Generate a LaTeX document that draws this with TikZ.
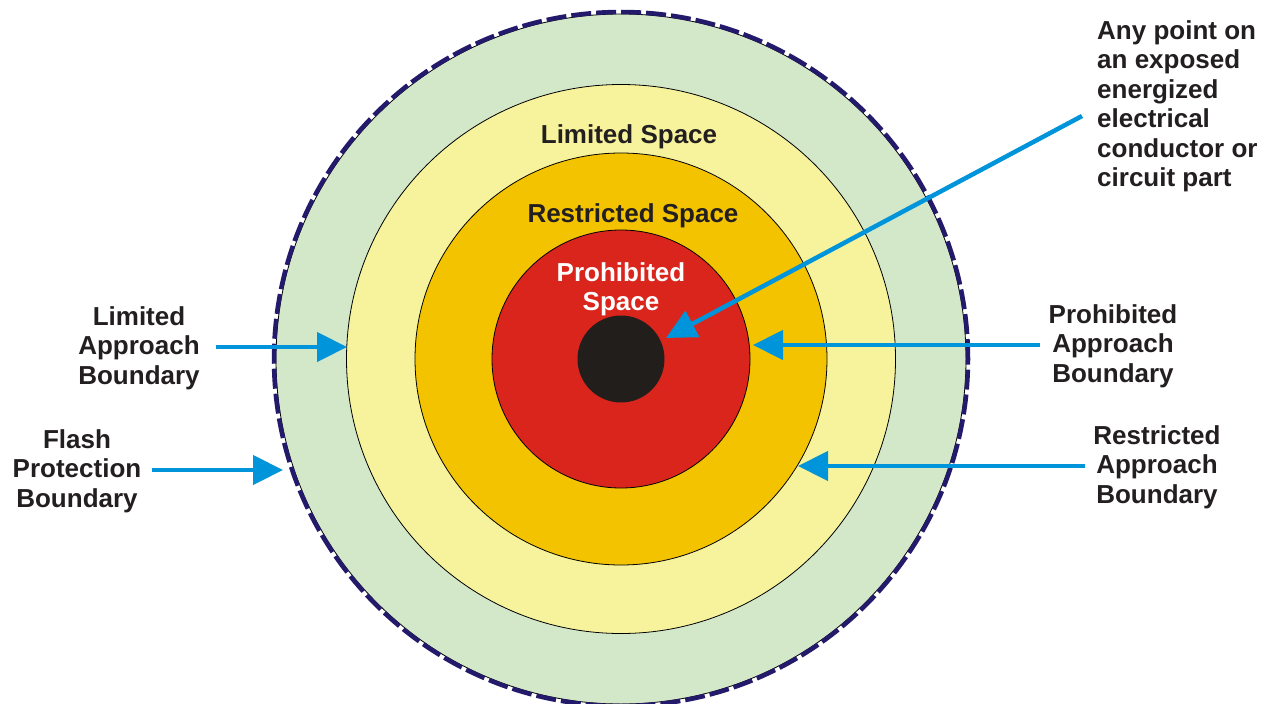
\documentclass[tikz,border=0pt]{standalone}
\usepackage{fontspec}
\setmainfont{Liberation Sans}
\usetikzlibrary{arrows.meta}
\definecolor{gr}{HTML}{D3E7C9}
\definecolor{yl}{HTML}{F7F39C}
\definecolor{og}{HTML}{F4C300}
\definecolor{rd}{HTML}{DA251D}
\definecolor{bk}{HTML}{221E1C}
\definecolor{bl}{HTML}{0094DA}
\definecolor{nv}{HTML}{241A6B}
\definecolor{tx}{HTML}{231F20}
\begin{document}
\begin{tikzpicture}[x=1pt,y=-1pt,
  lab/.style={font=\bfseries\fontsize{26}{29.5}\selectfont, text=tx, align=center, inner sep=0pt},
  ring/.style={circle, inner sep=0pt, draw=black, line width=0.8pt},
  arr/.style={draw=bl, line width=4.5pt, -{Triangle[length=30pt,width=29pt]}}]
\useasboundingbox (0,0) rectangle (1270,704);
\fill[white] (0,0) rectangle (1270,704);
\coordinate (c) at (621,359);
% rings
\node[ring, fill=gr, minimum size=690pt] (outer) at (c) {};
\draw[nv, line width=4.5pt, dash pattern=on 20pt off 5pt] (c) circle (347pt);
\node[ring, fill=yl, minimum size=549pt] (lim) at (c) {};
\node[ring, fill=og, minimum size=412pt] (res) at (c) {};
\node[ring, fill=rd, minimum size=258pt] (pro) at (c) {};
\node[circle, inner sep=0pt, fill=bk, minimum size=87pt] (core) at (c) {};
% space labels
\node[lab] (limsp) at (629,137) {Limited Space};
\node[lab] (ressp) at (633,216) {Restricted Space};
\node[lab, text=white] (prosp) at (621,289.5) {Prohibited\\Space};
% boundary labels
\node[lab] (limab) at (139,348) {Limited\\Approach\\Boundary};
\node[lab] (flash) at (77,471) {Flash\\Protection\\Boundary};
\node[lab] (proab) at (1113,346) {Prohibited\\Approach\\Boundary};
\node[lab] (resab) at (1157,467) {Restricted\\Approach\\Boundary};
\node[lab, align=left, anchor=north west] (point) at (1097,20) {Any point on\\an exposed\\energized\\electrical\\conductor or\\circuit part};
% arrow end points
\coordinate (limS) at (216,347);
\coordinate (limT) at (347,347);
\coordinate (flaS) at (152,470);
\coordinate (flaT) at (283,470);
\coordinate (proS) at (1040,345);
\coordinate (proT) at (753,345);
\coordinate (resS) at (1085,466);
\coordinate (resT) at (798,466);
\coordinate (ptS) at (1082,116);
\coordinate (ptT) at (666,338);
% arrows
\draw[arr] (limS) -- (limT);
\draw[arr] (flaS) -- (flaT);
\draw[arr] (proS) -- (proT);
\draw[arr] (resS) -- (resT);
\draw[arr] (ptS) -- (ptT);
\end{tikzpicture}
\end{document}
